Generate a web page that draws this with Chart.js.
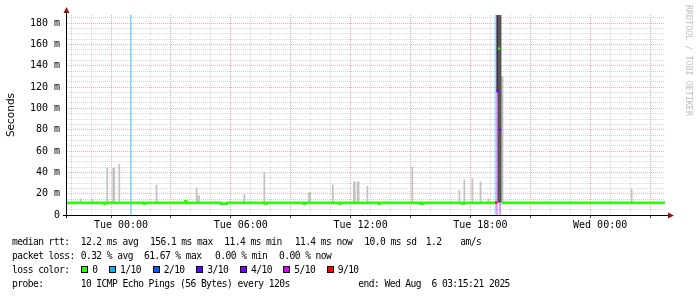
<!DOCTYPE html>
<html>
<head>
<meta charset="utf-8">
<script src="https://cdn.jsdelivr.net/npm/chart.js@4.4.1/dist/chart.umd.min.js"></script>
<style>
  body { margin: 0; background: #fff; }
  #wrap { position: relative; width: 697px; height: 297px; overflow: hidden; background: #fff; }
  #chart { position: absolute; left: 0; top: 0; }
  .lg { position: absolute; font-family: 'DejaVu Sans Mono', monospace; font-size: 9.6px; letter-spacing: -0.55px; line-height: 14px; white-space: pre; color: #000; }
  .sw { position: absolute; width: 7px; height: 7px; box-sizing: border-box; border: 1px solid #000; }
</style>
</head>
<body>
<div id="wrap">
  <canvas id="chart" width="697" height="297"></canvas>
  <div id="legend"></div>
</div>
<script>
// time is in hours counted from Tue 00:00, values in ms
const xMin = -2.705, xMax = 27.25;   // Mon 21:18 .. Wed 03:15
const yMax = 187.5;

const xTickHours = [0, 6, 12, 18, 24];
const xTickLabels = ['Tue 00:00', 'Tue 06:00', 'Tue 12:00', 'Tue 18:00', 'Wed 00:00'];
const yTickValues = [0, 20, 40, 60, 80, 100, 120, 140, 160, 180];
const yTickLabels = ['0', '20 m', '40 m', '60 m', '80 m', '100 m', '120 m', '140 m', '160 m', '180 m'];

// median rtt, value holds until the next time
const medianTimes = [-2.71, -0.83, -0.78, 1.15, 1.20, 3.22, 3.27, 5.01, 5.31, 7.23, 7.28, 9.16, 9.21,
  10.95, 11.00, 12.92, 12.97, 15.02, 15.14, 17.13, 17.18, 18.78, 18.79, 19.08, 27.25];
const medianValues = [11.4, 10.6, 11.4, 10.6, 11.4, 13.0, 11.4, 10.5, 11.4, 10.6, 11.4, 10.6, 11.4,
  10.6, 11.4, 10.6, 11.4, 10.5, 11.4, 10.6, 11.4, 11.4, null, 11.4, 11.4];

// median during the 18:50 outage, with lost pings out of 10
const spikeTimes = [18.79, 18.87, 18.94, 18.99];
const spikeValues = [11.6, 116, 156, 80];
const spikeLoss = [6, 3, 0, 4];

// loss background bars
const lossTimes = [0.50, 18.76, 18.84, 18.99];
const lossCounts = [1, 1, 5, 4];

// smoke (spread of the pings)
const smokeBase = 12;
const smokeLightTimes = [-2.02, -1.44, -0.69, -0.39, -0.34, -0.085, 1.78, 3.24, 3.79, 3.86, 3.91, 6.18, 7.18,
  9.42, 9.47, 10.61, 11.66, 11.71, 11.85, 11.90, 12.34, 14.59, 16.95, 17.20, 17.60, 18.01, 18.40, 19.06, 19.11, 25.58];
const smokeLightHigh = [15, 15, 44, 44, 44, 47.5, 28, 14, 25.5, 18, 18, 19, 39.7,
  21, 21, 28, 31, 31, 31, 31, 27, 45, 23, 33, 34, 31, 15, 130, 130, 24];
const smokeDarkTimes = [18.91, 18.96, 19.01];
const smokeDarkHigh = [190, 190, 190];
const smokeBlackTimes = [18.86];
const smokeBlackLow = [116];
const smokeBlackHigh = [190];

const lossLabels = ['0', '1/10', '2/10', '3/10', '4/10', '5/10', '9/10'];
const lossPalette = ['#26ff00', '#00b8ff', '#0059ff', '#5e00ff', '#7e00ff', '#dd00ff', '#ff0000'];

function lossColor(n) {
  return n > 5 ? lossPalette[6] : lossPalette[n];
}

const axisPlugin = {
  id: 'rrdAxes',
  afterDraw(chart) {
    const ctx = chart.ctx, a = chart.chartArea;
    ctx.save();
    ctx.strokeStyle = '#000';
    ctx.lineWidth = 1;
    ctx.beginPath();
    ctx.moveTo(a.left - 0.5, a.bottom + 3);
    ctx.lineTo(a.left - 0.5, a.top - 3);
    ctx.moveTo(a.left - 4, a.bottom + 0.5);
    ctx.lineTo(a.right + 3, a.bottom + 0.5);
    ctx.stroke();
    ctx.fillStyle = '#9a1010';
    ctx.beginPath();
    ctx.moveTo(a.left - 3.5, a.top - 2);
    ctx.lineTo(a.left + 2.5, a.top - 2);
    ctx.lineTo(a.left - 0.5, a.top - 8);
    ctx.fill();
    ctx.beginPath();
    ctx.moveTo(a.right + 3, a.bottom - 2.5);
    ctx.lineTo(a.right + 3, a.bottom + 3.5);
    ctx.lineTo(a.right + 9, a.bottom + 0.5);
    ctx.fill();
    // watermark
    ctx.translate(688.5, 5);
    ctx.rotate(Math.PI / 2);
    ctx.fillStyle = '#c0c0c0';
    ctx.font = '8.4px "DejaVu Sans Mono"';
    ctx.textBaseline = 'middle';
    ctx.fillText('RRDTOOL / TOBI OETIKER', 0, 0);
    ctx.restore();
  }
};

const gridRed = 'rgba(225, 80, 80, 0.45)';
const gridGray = 'rgba(150, 150, 150, 0.38)';

new Chart(document.getElementById('chart'), {
  type: 'bar',
  data: {
    datasets: [
      {
        data: lossTimes.map(t => ({ x: t, y: [0, yMax] })),
        backgroundColor: lossCounts.map(n => lossColor(n) + '66'),
        barThickness: 1.2,
        order: 5
      },
      {
        data: smokeLightTimes.map((t, i) => ({ x: t, y: [smokeBase, smokeLightHigh[i]] })),
        backgroundColor: '#c2c2c2',
        barThickness: 1.1,
        order: 4
      },
      {
        data: smokeDarkTimes.map((t, i) => ({ x: t, y: [smokeBase, smokeDarkHigh[i]] })),
        backgroundColor: '#565656',
        barThickness: 1.2,
        order: 3
      },
      {
        data: smokeBlackTimes.map((t, i) => ({ x: t, y: [smokeBlackLow[i], smokeBlackHigh[i]] })),
        backgroundColor: '#1c1c1c',
        barThickness: 1.2,
        order: 3
      },
      {
        type: 'line',
        data: medianTimes.map((t, i) => ({ x: t, y: medianValues[i] })),
        borderColor: lossPalette[0],
        borderWidth: 2.5,
        stepped: 'before',
        pointRadius: 0,
        spanGaps: false,
        order: 2
      },
      {
        type: 'line',
        data: spikeTimes.map((t, i) => ({ x: t, y: spikeValues[i] })),
        showLine: false,
        pointStyle: 'rect',
        pointRadius: 1.6,
        pointBorderWidth: 0,
        pointBackgroundColor: spikeLoss.map(lossColor),
        order: 1
      }
    ]
  },
  options: {
    responsive: false,
    animation: false,
    events: [],
    datasets: { bar: { grouped: false } },
    layout: { padding: { top: 15, right: 32, bottom: 62, left: 0 } },
    plugins: { legend: { display: false }, tooltip: { enabled: false } },
    scales: {
      x: {
        type: 'linear',
        min: xMin,
        max: xMax,
        offset: false,
        afterBuildTicks: s => {
          const t = [];
          for (let h = Math.ceil(xMin); h <= xMax; h++) t.push({ value: h });
          s.ticks = t;
        },
        afterFit: s => { s.height = 20; },
        grid: {
          color: c => (c.tick && c.tick.value % 3 === 0) ? gridRed : gridGray,
          drawTicks: true,
          tickLength: 3,
          tickColor: c => (c.tick && c.tick.value % 3 === 0) ? '#444' : 'rgba(0,0,0,0)'
        },
        border: { display: false, dash: [1, 1] },
        ticks: {
          autoSkip: false,
          maxRotation: 0,
          padding: 1,
          color: '#000',
          font: { family: 'DejaVu Sans Mono', size: 10 },
          callback: v => {
            const i = xTickHours.indexOf(v);
            return i >= 0 ? xTickLabels[i] : '';
          }
        }
      },
      y: {
        type: 'linear',
        min: 0,
        max: yMax,
        afterBuildTicks: s => {
          const t = [];
          for (let v = 0; v <= yMax; v += 5) t.push({ value: v });
          s.ticks = t;
        },
        afterFit: s => { s.width = 67; },
        grid: {
          color: c => {
            const v = c.tick ? c.tick.value : 0;
            if (v === 0) return 'rgba(0,0,0,0)';
            return v % 20 === 0 ? gridRed : gridGray;
          },
          drawTicks: false
        },
        border: { display: false, dash: [1, 1] },
        title: {
          display: true,
          text: 'Seconds',
          color: '#000',
          font: { family: 'DejaVu Sans', size: 10.5 },
          padding: { top: 5, bottom: 0 }
        },
        ticks: {
          autoSkip: false,
          padding: 7,
          color: '#000',
          font: { family: 'DejaVu Sans Mono', size: 10 },
          callback: v => {
            const i = yTickValues.indexOf(v);
            return i >= 0 ? yTickLabels[i] : '';
          }
        }
      }
    }
  },
  plugins: [axisPlugin]
});

// legend below the graph
const legend = document.getElementById('legend');
function put(text, x, y) {
  const d = document.createElement('div');
  d.className = 'lg';
  d.style.left = x + 'px';
  d.style.top = y + 'px';
  d.textContent = text;
  legend.appendChild(d);
}
put('median rtt:', 12, 235);
put('12.2 ms avg', 80.7, 235);
put('156.1 ms max', 150, 235);
put('11.4 ms min', 224.3, 235);
put('11.4 ms now', 294.7, 235);
put('10.0 ms sd', 364.3, 235);
put('1.2', 425.7, 235);
put('am/s', 460.3, 235);

put('packet loss:', 12, 249);
put('0.32 % avg', 80.7, 249);
put('61.67 % max', 144, 249);
put('0.00 % min', 215, 249);
put('0.00 % now', 279, 249);

put('loss color:', 12, 263);
const swatchX = [81.3, 109, 152.7, 196.3, 240, 283.3, 326.7];
lossLabels.forEach((lab, i) => {
  const s = document.createElement('div');
  s.className = 'sw';
  s.style.left = swatchX[i] + 'px';
  s.style.top = '266px';
  s.style.background = lossPalette[i];
  legend.appendChild(s);
  put(lab, swatchX[i] + 11, 263);
});

put('probe:', 12, 277);
put('10 ICMP Echo Pings (56 Bytes) every 120s', 80.7, 277);
put('end: Wed Aug  6 03:15:21 2025', 358.3, 277);
</script>
</body>
</html>
